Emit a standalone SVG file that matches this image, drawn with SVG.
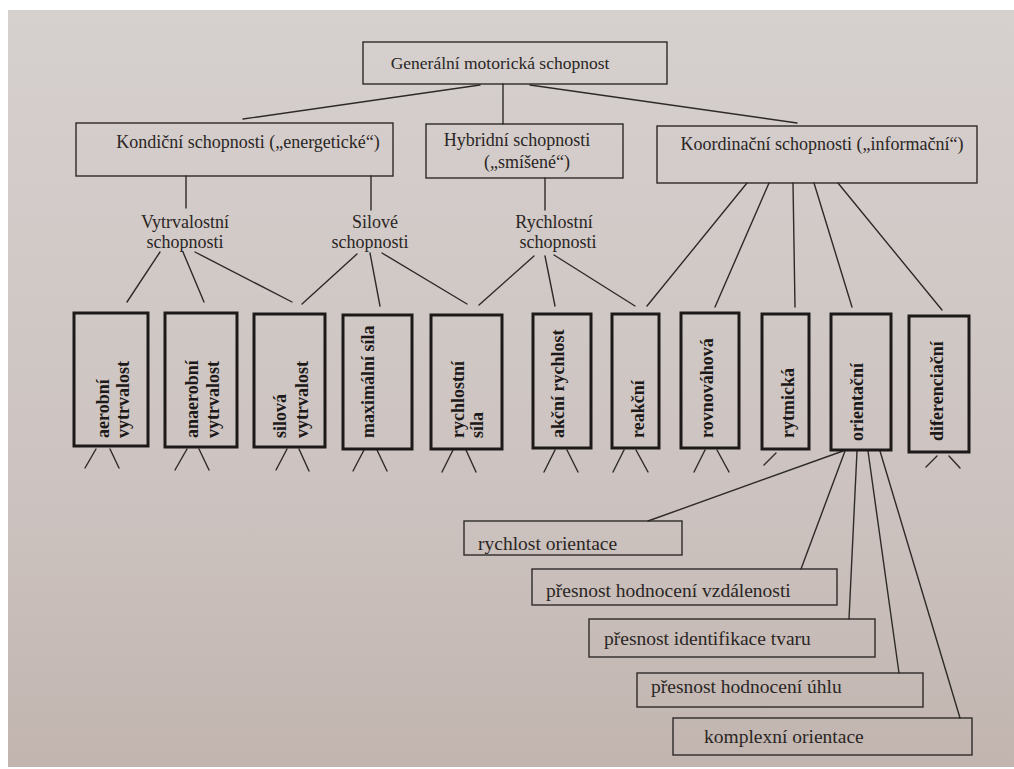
<svg xmlns="http://www.w3.org/2000/svg" width="1014" height="769" viewBox="0 0 1014 769">
<defs>
<linearGradient id="paper" x1="0" y1="0" x2="0" y2="1">
<stop offset="0" stop-color="#d6d0ce"/>
<stop offset="0.6" stop-color="#cdc4c1"/>
<stop offset="1" stop-color="#c2b5b0"/>
</linearGradient>
<style>
.t{font-family:"Liberation Serif","Times New Roman",serif;fill:#2a2624}
.h{font-size:18px}
.g{font-size:17.5px}
.b{font-size:18px;font-weight:bold;fill:#1c1918}
.s{font-size:19.5px}
.box{fill:none;stroke:#2e2a28;stroke-width:1.4}
.vbox{fill:none;stroke:#1c1918;stroke-width:3}
.m{text-anchor:middle}
#connectors line{stroke:#2e2a28;stroke-width:1.4;stroke-linecap:round}
</style>
</defs>
<rect width="1014" height="769" fill="#ffffff"/>
<rect x="8" y="10" width="1006" height="757" fill="url(#paper)"/>

<g id="connectors">
<line x1="480" y1="85" x2="243" y2="119"/>
<line x1="503" y1="84" x2="503" y2="124"/>
<line x1="530" y1="85" x2="797" y2="123"/>
<line x1="186" y1="176" x2="186" y2="208"/>
<line x1="371" y1="176" x2="371" y2="210"/>
<line x1="545" y1="178" x2="545" y2="210"/>
<line x1="160" y1="252" x2="127" y2="302"/>
<line x1="183" y1="252" x2="204" y2="302"/>
<line x1="195" y1="252" x2="292" y2="302"/>
<line x1="357" y1="254" x2="302" y2="304"/>
<line x1="370" y1="253" x2="380" y2="306"/>
<line x1="382" y1="253" x2="467" y2="304"/>
<line x1="534" y1="256" x2="479" y2="305"/>
<line x1="545" y1="256" x2="555" y2="306"/>
<line x1="554" y1="255" x2="635" y2="306"/>
<line x1="747" y1="183" x2="647" y2="306"/>
<line x1="769" y1="183" x2="715" y2="307"/>
<line x1="793" y1="183" x2="795" y2="307"/>
<line x1="814" y1="183" x2="852" y2="307"/>
<line x1="838" y1="183" x2="942" y2="310"/>
<line x1="96" y1="449" x2="85" y2="468"/>
<line x1="110" y1="449" x2="119" y2="468"/>
<line x1="187" y1="449" x2="175" y2="470"/>
<line x1="199" y1="449" x2="209" y2="470"/>
<line x1="287" y1="449" x2="276" y2="470"/>
<line x1="299" y1="449" x2="309" y2="471"/>
<line x1="364" y1="450" x2="353" y2="471"/>
<line x1="377" y1="450" x2="387" y2="471"/>
<line x1="453" y1="450" x2="442" y2="472"/>
<line x1="466" y1="450" x2="476" y2="472"/>
<line x1="555" y1="450" x2="544" y2="472"/>
<line x1="567" y1="450" x2="578" y2="472"/>
<line x1="624" y1="450" x2="613" y2="472"/>
<line x1="636" y1="450" x2="648" y2="472"/>
<line x1="705" y1="450" x2="694" y2="472"/>
<line x1="717" y1="450" x2="729" y2="472"/>
<line x1="776" y1="453" x2="764" y2="465"/>
<line x1="937" y1="456" x2="926" y2="467"/>
<line x1="949" y1="456" x2="960" y2="468"/>
<line x1="843" y1="451" x2="648" y2="521"/>
<line x1="845" y1="451" x2="801" y2="569"/>
<line x1="857" y1="451" x2="849" y2="619"/>
<line x1="868" y1="451" x2="899" y2="673"/>
<line x1="880" y1="451" x2="960" y2="718"/>
</g>

<g id="n-general">
<rect class="box" x="363" y="42" width="304" height="42"/>
<text class="t g m" x="500" y="69">Generální motorická schopnost</text>
</g>
<g id="n-kondicni">
<rect class="box" x="76" y="123" width="317" height="53"/>
<text class="t h m" x="248" y="148">Kondiční schopnosti („energetické“)</text>
</g>
<g id="n-hybridni">
<rect class="box" x="426" y="124" width="197" height="54"/>
<text class="t h m" x="517" y="146">Hybridní schopnosti</text>
<text class="t h m" x="527" y="168">(„smíšené“)</text>
</g>
<g id="n-koordinacni">
<rect class="box" x="657" y="126" width="320" height="57"/>
<text class="t h m" x="822" y="150">Koordinační schopnosti („informační“)</text>
</g>

<g id="n-vytrvalostni">
<text class="t h m" x="185" y="228">Vytrvalostní</text>
<text class="t h m" x="185" y="248">schopnosti</text>
</g>
<g id="n-silove">
<text class="t h m" x="375" y="228">Silové</text>
<text class="t h m" x="370" y="248">schopnosti</text>
</g>
<g id="n-rychlostni">
<text class="t h m" x="554" y="228">Rychlostní</text>
<text class="t h m" x="558" y="248">schopnosti</text>
</g>

<g id="n-aerobni">
<rect class="vbox" x="74" y="313" width="74" height="133"/>
<text class="t b" transform="translate(109,438) rotate(-90)">aerobní</text>
<text class="t b" transform="translate(129,438) rotate(-90)">vytrvalost</text>
</g>
<g id="n-anaerobni">
<rect class="vbox" x="165" y="313" width="72" height="134"/>
<text class="t b" transform="translate(198,438) rotate(-90)">anaerobní</text>
<text class="t b" transform="translate(219,438) rotate(-90)">vytrvalost</text>
</g>
<g id="n-silova">
<rect class="vbox" x="254" y="314" width="71" height="133"/>
<text class="t b" transform="translate(286,438) rotate(-90)">silová</text>
<text class="t b" transform="translate(308,438) rotate(-90)">vytrvalost</text>
</g>
<g id="n-maximalni">
<rect class="vbox" x="343" y="315" width="69" height="134"/>
<text class="t b" transform="translate(374,438) rotate(-90)">maximální síla</text>
</g>
<g id="n-rychlostni-sila">
<rect class="vbox" x="431" y="315" width="71" height="134"/>
<text class="t b" transform="translate(464,438) rotate(-90)">rychlostní</text>
<text class="t b" transform="translate(483,438) rotate(-90)">síla</text>
</g>
<g id="n-akcni">
<rect class="vbox" x="533" y="314" width="58" height="134"/>
<text class="t b" transform="translate(564,438) rotate(-90)">akční rychlost</text>
</g>
<g id="n-reakcni">
<rect class="vbox" x="612" y="314" width="47" height="134"/>
<text class="t b" transform="translate(644,438) rotate(-90)">reakční</text>
</g>
<g id="n-rovnovahova">
<rect class="vbox" x="681" y="313" width="58" height="135"/>
<text class="t b" transform="translate(713,438) rotate(-90)">rovnováhová</text>
</g>
<g id="n-rytmicka">
<rect class="vbox" x="762" y="314" width="47" height="135"/>
<text class="t b" transform="translate(794,438) rotate(-90)">rytmická</text>
</g>
<g id="n-orientacni">
<rect class="vbox" x="831" y="314" width="60" height="136"/>
<text class="t b" transform="translate(863,441) rotate(-90)">orientační</text>
</g>
<g id="n-diferenciacni">
<rect class="vbox" x="909" y="316" width="60" height="136"/>
<text class="t b" transform="translate(943,441) rotate(-90)">diferenciační</text>
</g>

<g id="n-rychlost-orientace">
<rect class="box" x="464" y="521" width="218" height="34"/>
<text class="t s" x="478" y="550">rychlost orientace</text>
</g>
<g id="n-vzdalenost">
<rect class="box" x="532" y="569" width="305" height="36"/>
<text class="t s" x="546" y="597">přesnost hodnocení vzdálenosti</text>
</g>
<g id="n-tvar">
<rect class="box" x="589" y="619" width="286" height="38"/>
<text class="t s" x="604" y="645">přesnost identifikace tvaru</text>
</g>
<g id="n-uhel">
<rect class="box" x="637" y="673" width="286" height="34"/>
<text class="t s" x="651" y="693">přesnost hodnocení úhlu</text>
</g>
<g id="n-komplexni">
<rect class="box" x="673" y="718" width="299" height="37"/>
<text class="t s" x="704" y="743">komplexní orientace</text>
</g>
</svg>
